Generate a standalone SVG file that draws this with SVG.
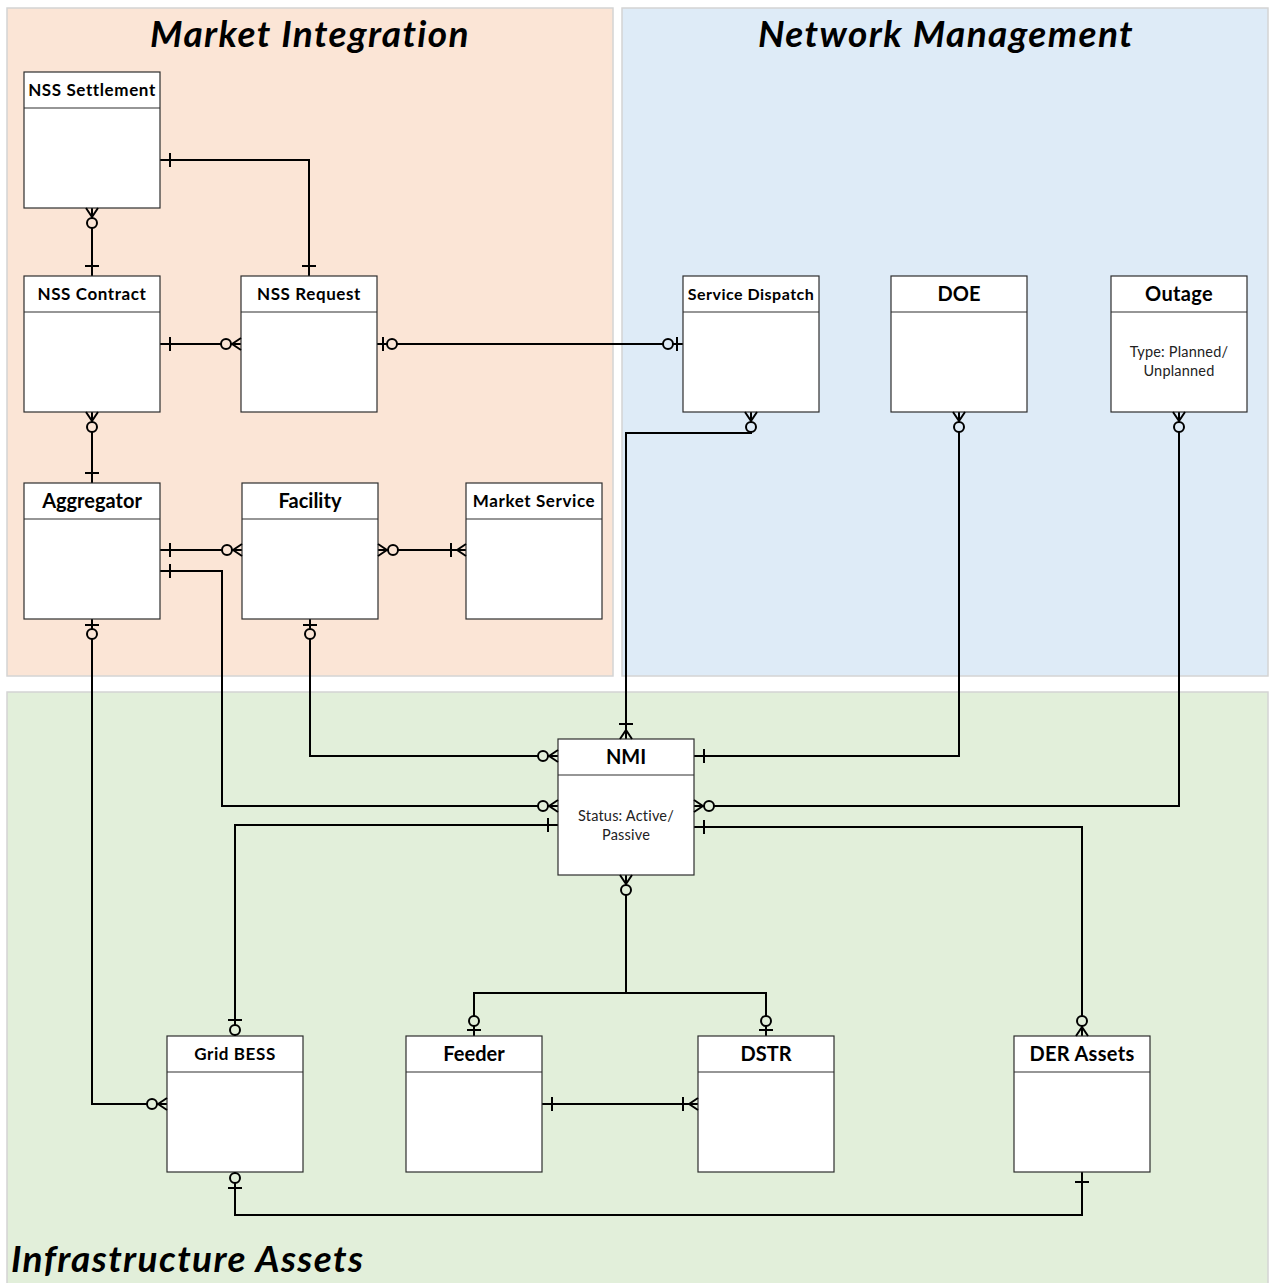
<svg xmlns="http://www.w3.org/2000/svg" xmlns:xlink="http://www.w3.org/1999/xlink" width="1269" height="1283" viewBox="0 0 1269 1283">
  <style>
    .panel { stroke: #d4d4d4; stroke-width: 1.5; }
    .title { font-family: Lato, "Liberation Sans", sans-serif; font-weight: bold; font-style: italic; font-size: 37px; letter-spacing: 1.4px; fill: #000; }
    .box { fill: #fff; stroke: #2e2e2e; stroke-width: 1.2; }
    .hd { font-family: Lato, "Liberation Sans", sans-serif; font-weight: bold; fill: #000; text-anchor: middle; }
    .big { font-size: 20px; }
    .small { font-size: 17px; letter-spacing: 0.6px; }
    .body { font-family: Lato, "Liberation Sans", sans-serif; font-size: 14.5px; letter-spacing: 0.2px; fill: #222; text-anchor: middle; }
    .link { fill: none; stroke: #000; stroke-width: 2; }
    .end path { fill: none; stroke: #000; stroke-width: 2; }
    .end circle { stroke: #000; stroke-width: 2; }
    .mk { fill: #FBE5D6; }
    .nw { fill: #DEEBF7; }
    .in { fill: #E2EFDA; }
  </style>
  <defs>
    <!-- crow's-foot end symbols: origin on the entity edge, +x away from the entity -->
    <g id="one" class="end"><path d="M10,-7V7"/></g>
    <g id="zo" class="end"><path d="M6,-7V7"/><circle cx="15" cy="0" r="5"/></g>
    <g id="oz" class="end"><circle cx="6" cy="0" r="5"/><path d="M16,-7V7"/></g>
    <g id="zm" class="end"><path d="M0,-6L9,0M0,6L9,0"/><circle cx="15" cy="0" r="5"/></g>
    <g id="om" class="end"><path d="M0,-6L9,0M0,6L9,0M15,-7V7"/></g>
  </defs>

  <rect width="1269" height="1283" fill="#fff"/>

  <!-- domain panels -->
  <g id="panel-market">
    <rect class="panel" x="7" y="8" width="606" height="668" fill="#FBE5D6"/>
    <text class="title" x="310" y="47" text-anchor="middle">Market Integration</text>
  </g>
  <g id="panel-network">
    <rect class="panel" x="622" y="8" width="646" height="668" fill="#DEEBF7"/>
    <text class="title" x="946" y="47" text-anchor="middle">Network Management</text>
  </g>
  <g id="panel-infra">
    <rect class="panel" x="7" y="692" width="1261" height="600" fill="#E2EFDA"/>
    <text class="title" x="11" y="1272">Infrastructure Assets</text>
  </g>

  <!-- relationship lines -->
  <g id="connectors">
    <path class="link" d="M92,208V276"/>
    <path class="link" d="M160,160H309V276"/>
    <path class="link" d="M160,344H241"/>
    <path class="link" d="M377,344H683"/>
    <path class="link" d="M92,412V483"/>
    <path class="link" d="M160,550H242"/>
    <path class="link" d="M378,550H466"/>
    <path class="link" d="M160,571H222V806H558"/>
    <path class="link" d="M310,619V756H558"/>
    <path class="link" d="M92,619V1104H167"/>
    <path class="link" d="M751,412V433H626V739"/>
    <path class="link" d="M959,412V756H694"/>
    <path class="link" d="M1179,412V806H694"/>
    <path class="link" d="M558,825H235V1036"/>
    <path class="link" d="M694,827H1082V1036"/>
    <path class="link" d="M626,875V993M474,1036V993H766V1036"/>
    <path class="link" d="M542,1104H698"/>
    <path class="link" d="M235,1172V1215H1082V1172"/>
  </g>

  <!-- entities -->
  <g id="nss-settlement">
    <rect class="box" x="24" y="72" width="136" height="136"/>
    <line class="box" x1="24" y1="108" x2="160" y2="108"/>
    <text class="hd small" x="92" y="96">NSS Settlement</text>
  </g>
  <g id="nss-contract">
    <rect class="box" x="24" y="276" width="136" height="136"/>
    <line class="box" x1="24" y1="312" x2="160" y2="312"/>
    <text class="hd small" x="92" y="300">NSS Contract</text>
  </g>
  <g id="nss-request">
    <rect class="box" x="241" y="276" width="136" height="136"/>
    <line class="box" x1="241" y1="312" x2="377" y2="312"/>
    <text class="hd small" x="309" y="300">NSS Request</text>
  </g>
  <g id="aggregator">
    <rect class="box" x="24" y="483" width="136" height="136"/>
    <line class="box" x1="24" y1="519" x2="160" y2="519"/>
    <text class="hd big" x="92" y="508">Aggregator</text>
  </g>
  <g id="facility">
    <rect class="box" x="242" y="483" width="136" height="136"/>
    <line class="box" x1="242" y1="519" x2="378" y2="519"/>
    <text class="hd big" x="310" y="508">Facility</text>
  </g>
  <g id="market-service">
    <rect class="box" x="466" y="483" width="136" height="136"/>
    <line class="box" x1="466" y1="519" x2="602" y2="519"/>
    <text class="hd small" x="534" y="507">Market Service</text>
  </g>
  <g id="service-dispatch">
    <rect class="box" x="683" y="276" width="136" height="136"/>
    <line class="box" x1="683" y1="312" x2="819" y2="312"/>
    <text class="hd" x="751" y="300" font-size="16" letter-spacing="0.5">Service Dispatch</text>
  </g>
  <g id="doe">
    <rect class="box" x="891" y="276" width="136" height="136"/>
    <line class="box" x1="891" y1="312" x2="1027" y2="312"/>
    <text class="hd big" x="959" y="301">DOE</text>
  </g>
  <g id="outage">
    <rect class="box" x="1111" y="276" width="136" height="136"/>
    <line class="box" x1="1111" y1="312" x2="1247" y2="312"/>
    <text class="hd big" x="1179" y="301" letter-spacing="0.3">Outage</text>
    <text class="body" x="1179" y="357">Type: Planned/</text>
    <text class="body" x="1179" y="376">Unplanned</text>
  </g>
  <g id="nmi">
    <rect class="box" x="558" y="739" width="136" height="136"/>
    <line class="box" x1="558" y1="775" x2="694" y2="775"/>
    <text class="hd big" x="626" y="764">NMI</text>
    <text class="body" x="626" y="821">Status: Active/</text>
    <text class="body" x="626" y="840">Passive</text>
  </g>
  <g id="grid-bess">
    <rect class="box" x="167" y="1036" width="136" height="136"/>
    <line class="box" x1="167" y1="1072" x2="303" y2="1072"/>
    <text class="hd small" x="235" y="1060">Grid BESS</text>
  </g>
  <g id="feeder">
    <rect class="box" x="406" y="1036" width="136" height="136"/>
    <line class="box" x1="406" y1="1072" x2="542" y2="1072"/>
    <text class="hd big" x="474" y="1061">Feeder</text>
  </g>
  <g id="dstr">
    <rect class="box" x="698" y="1036" width="136" height="136"/>
    <line class="box" x1="698" y1="1072" x2="834" y2="1072"/>
    <text class="hd big" x="766" y="1061">DSTR</text>
  </g>
  <g id="der-assets">
    <rect class="box" x="1014" y="1036" width="136" height="136"/>
    <line class="box" x1="1014" y1="1072" x2="1150" y2="1072"/>
    <text class="hd big" x="1082" y="1061" letter-spacing="0.3">DER Assets</text>
  </g>

  <!-- cardinality ends -->
  <g id="ends">
    <use xlink:href="#zm" class="mk" transform="translate(92,208) rotate(90)"/>
    <use xlink:href="#one" transform="translate(92,276) rotate(-90)"/>
    <use xlink:href="#one" transform="translate(160,160)"/>
    <use xlink:href="#one" transform="translate(309,276) rotate(-90)"/>
    <use xlink:href="#one" transform="translate(160,344)"/>
    <use xlink:href="#zm" class="mk" transform="translate(241,344) rotate(180)"/>
    <use xlink:href="#zo" class="mk" transform="translate(377,344)"/>
    <use xlink:href="#zo" class="nw" transform="translate(683,344) rotate(180)"/>
    <use xlink:href="#zm" class="mk" transform="translate(92,412) rotate(90)"/>
    <use xlink:href="#one" transform="translate(92,483) rotate(-90)"/>
    <use xlink:href="#one" transform="translate(160,550)"/>
    <use xlink:href="#zm" class="mk" transform="translate(242,550) rotate(180)"/>
    <use xlink:href="#zm" class="mk" transform="translate(378,550)"/>
    <use xlink:href="#om" transform="translate(466,550) rotate(180)"/>
    <use xlink:href="#one" transform="translate(160,571)"/>
    <use xlink:href="#zm" class="in" transform="translate(558,806) rotate(180)"/>
    <use xlink:href="#zo" class="mk" transform="translate(310,619) rotate(90)"/>
    <use xlink:href="#zm" class="in" transform="translate(558,756) rotate(180)"/>
    <use xlink:href="#zo" class="mk" transform="translate(92,619) rotate(90)"/>
    <use xlink:href="#zm" class="in" transform="translate(167,1104) rotate(180)"/>
    <use xlink:href="#zm" class="nw" transform="translate(751,412) rotate(90)"/>
    <use xlink:href="#om" transform="translate(626,739) rotate(-90)"/>
    <use xlink:href="#zm" class="nw" transform="translate(959,412) rotate(90)"/>
    <use xlink:href="#one" transform="translate(694,756)"/>
    <use xlink:href="#zm" class="nw" transform="translate(1179,412) rotate(90)"/>
    <use xlink:href="#zm" class="in" transform="translate(694,806)"/>
    <use xlink:href="#one" transform="translate(558,825) rotate(180)"/>
    <use xlink:href="#oz" class="in" transform="translate(235,1036) rotate(-90)"/>
    <use xlink:href="#one" transform="translate(694,827)"/>
    <use xlink:href="#zm" class="in" transform="translate(1082,1036) rotate(-90)"/>
    <use xlink:href="#zm" class="in" transform="translate(626,875) rotate(90)"/>
    <use xlink:href="#zo" class="in" transform="translate(474,1036) rotate(-90)"/>
    <use xlink:href="#zo" class="in" transform="translate(766,1036) rotate(-90)"/>
    <use xlink:href="#one" transform="translate(542,1104)"/>
    <use xlink:href="#om" transform="translate(698,1104) rotate(180)"/>
    <use xlink:href="#oz" class="in" transform="translate(235,1172) rotate(90)"/>
    <use xlink:href="#one" transform="translate(1082,1172) rotate(90)"/>
  </g>
</svg>
